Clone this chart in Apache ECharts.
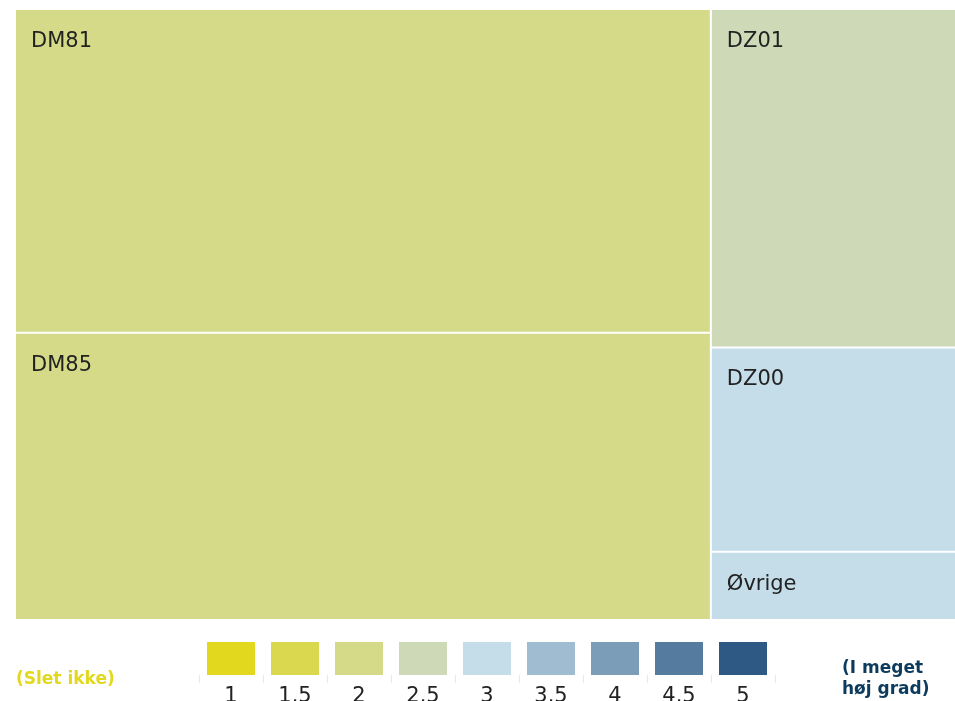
<!DOCTYPE html>
<html>
<head>
    <meta charset="UTF-8">
    <title>Treemap</title>
    <style type="text/css">
        *{ margin: 0; padding: 0; }
        #main{ width: 955px; height: 701px; }
    </style>
    <script src="https://cdn.jsdelivr.net/npm/echarts@6/dist/echarts.min.js"></script>
</head>
<body>
<div id="main"></div>
<script type="text/javascript">
    // treemap data
    var names = ['DM81', 'DM85', 'DZ01', 'DZ00', 'Øvrige'];
    var sizes = [391, 347, 144, 87, 29];
    var scores = [2, 2, 2.5, 3, 3];

    // colour scale (legend)
    var scaleLabels = ['1', '1.5', '2', '2.5', '3', '3.5', '4', '4.5', '5'];
    var scaleColors = ['#e2d91f', '#d9d84f', '#d4da87', '#cedab7', '#c4dde9', '#a0bcd1', '#7b9db8', '#557c9f', '#2e5985'];
    var scaleFill = [1, 1, 1, 1, 1, 1, 1, 1, 1];

    function colorOf(v) {
        var i = scaleLabels.indexOf(String(v));
        return scaleColors[i];
    }

    var treeData = names.map(function (n, i) {
        return { name: n, value: sizes[i], itemStyle: { color: colorOf(scores[i]) } };
    });

    var myChart = echarts.init(document.getElementById('main'));

    var option = {
        animation: false,
        textStyle: { fontFamily: 'DejaVu Sans' },
        grid: { left: 199, width: 576, top: 642, height: 33, outerBoundsMode: 'none' },
        xAxis: {
            type: 'category',
            data: scaleLabels,
            axisLine: { show: false },
            axisTick: { show: true, length: 8, lineStyle: { color: '#e8e8e8', width: 1 } },
            axisLabel: { fontSize: 21, color: '#222', margin: 11 }
        },
        yAxis: { type: 'value', min: 0, max: 1, show: false },
        graphic: [
            {
                type: 'text', left: 16, top: 671,
                style: { text: '(Slet ikke)', fill: '#e2d91f', font: 'bold 17px DejaVu Sans' }
            },
            {
                type: 'text', left: 842, top: 658,
                style: { text: '(I meget\nhøj grad)', fill: '#0d3b5e', font: 'bold 17px DejaVu Sans',
                    align: 'center', lineHeight: 21 }
            }
        ],
        series: [
            {
                type: 'bar',
                barWidth: 48,
                silent: true,
                data: scaleFill.map(function (v, i) {
                    return { value: v, itemStyle: { color: scaleColors[i] } };
                })
            },
            {
                type: 'treemap',
                left: 16, top: 10, width: 939, height: 609,
                roam: false,
                nodeClick: false,
                breadcrumb: { show: false },
                itemStyle: { borderWidth: 0, gapWidth: 2, borderColor: '#fff' },
                label: {
                    show: true,
                    position: [10, 16],
                    fontSize: 21,
                    color: '#222',
                    fontFamily: 'DejaVu Sans'
                },
                data: treeData
            }
        ]
    };
    myChart.setOption(option);
</script>
</body>
</html>
